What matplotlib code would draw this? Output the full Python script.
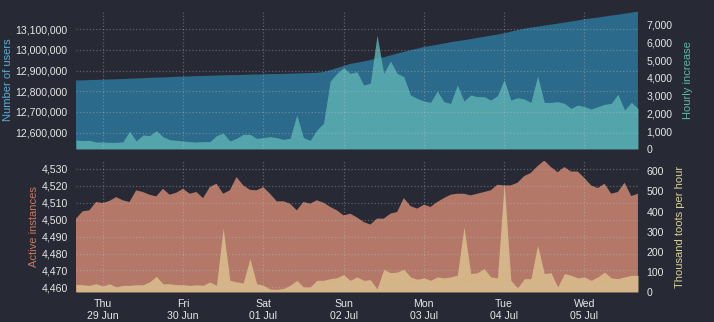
import numpy as np
import pandas as pd
import matplotlib
matplotlib.use("Agg")
import matplotlib.pyplot as plt
import matplotlib.dates as mdates
from matplotlib.ticker import FuncFormatter, MultipleLocator

plt.rcParams['font.family'] = ['Liberation Sans', 'DejaVu Sans']
plt.rcParams['font.size'] = 8

# samples every 2 hours, 28 Jun 16:00 -> 05 Jul 16:00 (2023)
times = pd.date_range("2023-06-28 16:00", periods=85, freq="2h")

users = [12852, 12853, 12854, 12855, 12856, 12857, 12858, 12859, 12861, 12862,
         12863, 12865, 12866, 12867, 12868, 12870, 12871, 12872, 12873, 12874,
         12875, 12876, 12877, 12878, 12878, 12879, 12880, 12881, 12882, 12883,
         12883, 12884, 12885, 12886, 12887, 12888, 12889, 12893, 12902, 12912,
         12922, 12932, 12938, 12944, 12951, 12958, 12964, 12973, 12982, 12990,
         12998, 13006, 13014, 13019, 13025, 13031, 13037, 13042, 13047, 13052,
         13058, 13063, 13069, 13074, 13080, 13088, 13095, 13102, 13108, 13112,
         13117, 13122, 13127, 13132, 13137, 13142, 13148, 13152, 13156, 13161,
         13166, 13170, 13175, 13180, 13185]
users = np.array(users) * 1000

hourly = [506, 468, 487, 393, 393, 375, 375, 393, 1000, 450,
          787, 750, 1030, 693, 524, 487, 450, 412, 393, 412,
          412, 750, 900, 450, 600, 824, 824, 600, 637, 693,
          637, 543, 600, 1910, 637, 487, 1068, 1442, 3820, 4250,
          4570, 4250, 4345, 3596, 3700, 6400, 4250, 4945, 4252, 4065,
          3034, 2847, 2697, 2622, 3259, 2660, 2566, 3596, 2697, 3034,
          2941, 2941, 2753, 3000, 3900, 2753, 2884, 2810, 2622, 4100,
          2622, 2622, 2660, 2566, 2285, 2472, 2379, 2248, 2379, 2510,
          2566, 3072, 2191, 2622, 2285]

instances = [4500.6, 4504.9, 4505.5, 4510.4, 4509.8, 4511.0, 4513.3, 4511.4, 4510.4, 4517.3,
             4516.3, 4514.7, 4513.7, 4518.2, 4514.7, 4515.9, 4518.2, 4515.3, 4516.3, 4512.7,
             4519.2, 4521.2, 4515.3, 4517.3, 4525.1, 4520.2, 4517.6, 4517.3, 4519.2, 4515.3,
             4510.8, 4510.8, 4509.4, 4505.5, 4510.4, 4509.4, 4511.4, 4510.0, 4507.5, 4505.5,
             4502.5, 4503.5, 4501.3, 4498.6, 4497.1, 4500.6, 4500.6, 4503.5, 4504.5, 4512.7,
             4508.0, 4506.5, 4508.8, 4507.5, 4510.4, 4512.7, 4514.7, 4515.3, 4515.3, 4514.3,
             4515.3, 4516.3, 4517.3, 4520.6, 4520.2, 4520.2, 4521.8, 4525.7, 4527.6, 4531.6,
             4534.9, 4531.0, 4528.0, 4531.0, 4528.4, 4528.4, 4524.5, 4520.2, 4518.6, 4521.2,
             4515.3, 4516.3, 4521.8, 4513.9, 4515.3]

toots = [38, 36, 33, 41, 30, 41, 25, 33, 33, 36,
         36, 50, 78, 41, 41, 36, 36, 33, 36, 33,
         50, 33, 318, 58, 50, 45, 166, 41, 33, 15,
         13, 17, 33, 58, 25, 25, 58, 58, 66, 71,
         86, 58, 75, 58, 61, 15, 113, 96, 99, 113,
         75, 63, 70, 58, 75, 70, 75, 83, 323, 91,
         96, 116, 75, 70, 539, 58, 20, 66, 66, 232,
         91, 96, 25, 91, 83, 70, 75, 58, 75, 99,
         70, 66, 75, 83, 83]

bg = "#272a35"
c_users = "#2b6a8a"
c_hourly = "#5db3b3"
c_inst = "#b37868"
c_toots = "#d8b88a"
grid_kw = dict(color="#c8c8c8", alpha=0.35, linestyle=":", linewidth=0.9)
TS = 7.6

fig = plt.figure(figsize=(7.14, 3.22), dpi=100, facecolor=bg)


def make_panel(rect, left_vals, right_vals, c_left, c_right, left_lim, right_lim,
               left_step, right_step, left_label, right_label, lab_left_c, lab_right_c,
               right_alpha):
    ax = fig.add_axes(rect)
    ax.set_facecolor(bg)
    ax.fill_between(times, left_vals, left_lim[0] - 1e9, color=c_left, linewidth=0)
    ax.set_ylim(*left_lim)
    ax.yaxis.set_major_locator(MultipleLocator(left_step))
    ax.yaxis.set_major_formatter(FuncFormatter(lambda v, p: f"{v:,.0f}"))
    ax.set_ylabel(left_label, color=lab_left_c, labelpad=2, fontsize=8)

    ax2 = ax.twinx()
    ax2.fill_between(times, right_vals, 0, color=c_right, alpha=right_alpha, linewidth=0)
    ax2.set_ylim(*right_lim)
    ax2.yaxis.set_major_locator(MultipleLocator(right_step))
    ax2.yaxis.set_major_formatter(FuncFormatter(lambda v, p: f"{v:,.0f}"))
    ax2.set_ylabel(right_label, color=lab_right_c, labelpad=8, fontsize=8)

    # overlay axes only for the grid, so it sits on top of both fills
    gax = fig.add_axes(rect, sharex=ax, sharey=ax)
    gax.patch.set_visible(False)
    gax.grid(True, **grid_kw)
    gax.tick_params(left=False, bottom=False, labelleft=False, labelbottom=False)

    for a in (ax, ax2, gax):
        for s in a.spines.values():
            s.set_visible(False)
        a.tick_params(colors="#e6e6e6", length=0, labelsize=TS)
    ax.tick_params(axis="y", pad=6)
    ax2.tick_params(axis="y", pad=6)
    ax.set_xlim(times[0], times[-1])
    ax.xaxis.set_major_locator(mdates.DayLocator())
    ax.xaxis.set_major_formatter(mdates.DateFormatter("%a\n%d %b"))
    return ax, ax2


top, top2 = make_panel([0.1064, 0.5373, 0.7871, 0.4286], users, hourly, c_users, c_hourly,
                       (12521000, 13188000), (0, 7760), 100000, 1000,
                       "Number of users", "Hourly increase", "#5aaed6", "#5bb8a8", 0.82)
top.tick_params(axis="x", labelbottom=False)

bot, bot2 = make_panel([0.1064, 0.0932, 0.7871, 0.4068], instances, toots, c_inst, c_toots,
                       (4457.3, 4534.6), (0, 651), 10, 100,
                       "Active instances", "Thousand toots per hour", "#c8785e", "#d8cf96", 0.95)
bot.tick_params(axis="x", pad=5)
for lbl in bot.get_xticklabels():
    lbl.set_horizontalalignment("center")

fig.savefig("out.png", dpi=100, facecolor=bg)
